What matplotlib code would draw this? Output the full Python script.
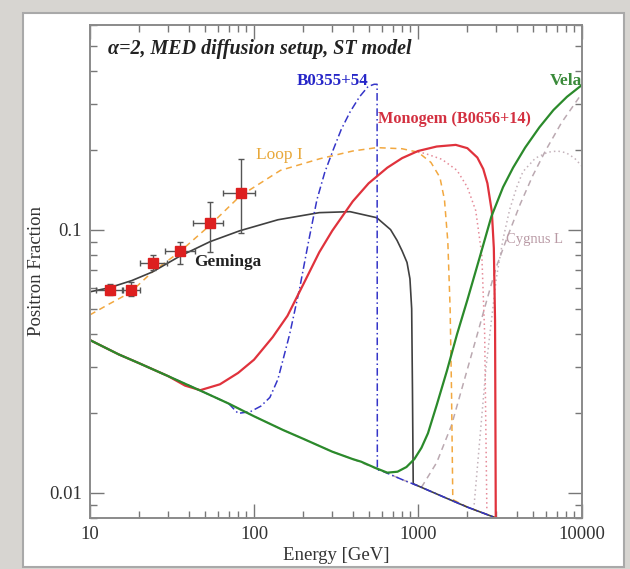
import matplotlib
matplotlib.use("Agg")
import matplotlib.pyplot as plt
from matplotlib.patches import Rectangle
from matplotlib.ticker import LogLocator, NullFormatter, FixedLocator, FixedFormatter

# ---- data -------------------------------------------------------------
# secondary-positron background
bg_E = [10, 15, 20, 30, 50, 70, 100, 150, 200, 300, 400, 600, 800, 1000, 1500, 2000, 3000, 3200]
bg_y = [0.038, 0.0335, 0.0310, 0.0277, 0.0240, 0.0218, 0.0195, 0.0173, 0.0160, 0.0143,
        0.0134, 0.0121, 0.0112, 0.0106, 0.0095, 0.0088, 0.0080, 0.0078]

# background + single pulsar (only the part that departs from the background)
vela_E = [450, 550, 650, 750, 850, 950, 1050, 1150, 1300, 1500, 1730, 2000, 2400, 2800,
          3300, 3800, 4500, 5500, 6700, 8100, 10000]
vela_y = [0.0131, 0.0124, 0.0119, 0.0120, 0.0125, 0.0134, 0.0148, 0.0168, 0.0215, 0.0290,
          0.040, 0.054, 0.080, 0.112, 0.145, 0.172, 0.205, 0.245, 0.285, 0.320, 0.355]

mono_E = [30, 38, 47, 62, 80, 100, 130, 160, 200, 250, 300, 400, 500, 650, 800, 1000, 1300,
          1700, 2000, 2300, 2500, 2650, 2820, 2900, 2950, 2980]
mono_y = [0.0277, 0.0255, 0.0245, 0.0258, 0.0285, 0.0320, 0.0390, 0.0470, 0.0620, 0.0820,
          0.0990, 0.128, 0.150, 0.172, 0.187, 0.199, 0.207, 0.210, 0.204, 0.188, 0.170,
          0.150, 0.117, 0.085, 0.045, 0.0080]

b0355_E = [80, 95, 110, 125, 140, 165, 190, 215, 242, 270, 303, 340, 385, 440, 496, 540, 563, 565]
b0355_y = [0.0200, 0.0203, 0.0213, 0.0230, 0.0270, 0.040, 0.060, 0.090, 0.130, 0.165, 0.200,
           0.240, 0.280, 0.320, 0.350, 0.357, 0.357, 0.0122]

loop_E = [10, 13, 17.5, 24, 35, 54, 82, 145, 252, 400, 560, 800, 1000, 1200, 1360, 1450,
          1520, 1570, 1600, 1630]
loop_y = [0.0474, 0.052, 0.0575, 0.069, 0.082, 0.104, 0.134, 0.168, 0.186, 0.199, 0.205,
          0.203, 0.197, 0.180, 0.158, 0.130, 0.090, 0.050, 0.025, 0.0094]

gem_E = [10, 13, 18, 24, 35, 54, 82, 140, 250, 385, 560, 680, 745, 800, 857, 893, 915, 925, 935]
gem_y = [0.058, 0.060, 0.064, 0.069, 0.079, 0.090, 0.099, 0.109, 0.116, 0.117, 0.111, 0.100,
         0.091, 0.083, 0.075, 0.065, 0.050, 0.025, 0.0108]

pink_E = [1000, 1100, 1400, 1730, 2000, 2250, 2450, 2550, 2630]
pink_y = [0.197, 0.195, 0.185, 0.168, 0.145, 0.118, 0.080, 0.040, 0.0085]

cyg_E = [1043, 1300, 1600, 1890, 2300, 2630, 3000, 3490, 4200, 5000, 6000, 7500, 10000]
cyg_y = [0.0104, 0.0130, 0.0180, 0.0260, 0.040, 0.054, 0.072, 0.093, 0.125, 0.160, 0.200,
         0.255, 0.330]

arc_E = [2200, 2600, 3000, 3300, 3620, 4000, 4360, 5200, 6200, 7080, 8000, 9000, 10000]
arc_y = [0.0090, 0.030, 0.065, 0.092, 0.119, 0.145, 0.166, 0.187, 0.197, 0.199, 0.196,
         0.187, 0.174]

# measured positron fraction points
pt_E = [13.2, 17.8, 24.2, 35.4, 54.0, 83.4]
pt_y = [0.059, 0.059, 0.0748, 0.083, 0.106, 0.138]
pt_Elo = [10.9, 15.9, 20.2, 28.6, 42.5, 64.6]
pt_Ehi = [15.7, 20.2, 29.5, 43.7, 64.6, 101.0]
pt_ylo = [0.0565, 0.056, 0.0705, 0.0740, 0.082, 0.0968]
pt_yhi = [0.0620, 0.063, 0.0800, 0.0894, 0.127, 0.185]


def with_background(E, y):
    """Join a pulsar curve with the background below and above its range."""
    lo = [(e, v) for e, v in zip(bg_E, bg_y) if e < E[0]]
    hi = [(e, v) for e, v in zip(bg_E, bg_y) if e > E[-1]]
    xs = [p[0] for p in lo] + list(E) + [p[0] for p in hi]
    ys = [p[1] for p in lo] + list(y) + [p[1] for p in hi]
    return xs, ys


# ---- figure -----------------------------------------------------------
fig = plt.figure(figsize=(6.3, 5.69), dpi=100)
fig.patch.set_facecolor("#d7d5d1")
fig.patches.append(Rectangle((23 / 630, 2 / 569), 601 / 630, 554 / 569,
                             transform=fig.transFigure, facecolor="white",
                             edgecolor="#a9a9a9", linewidth=1.5, zorder=-10))

ax = fig.add_axes([90 / 630, 1 - 518 / 569, 492 / 630, 493 / 569])
ax.set_zorder(5)
ax.set_xscale("log")
ax.set_yscale("log")
ax.set_xlim(10, 10000)
ax.set_ylim(0.008, 0.6)

serif = ["Liberation Serif", "DejaVu Serif"]

ax.plot(arc_E, arc_y, color="#c4b3bb", linestyle=(0, (1, 2)), linewidth=1.1)
ax.plot(*with_background(cyg_E, cyg_y), color="#bba9b1", linestyle=(0, (4, 3)), linewidth=1.1)
ax.plot(pink_E, pink_y, color="#e58a98", linestyle=(0, (1, 2)), linewidth=1.1)
ax.plot(*with_background(loop_E, loop_y), color="#f2a840", linestyle=(0, (4, 3)), linewidth=1.1)
ax.plot(*with_background(gem_E, gem_y), color="#404040", linewidth=1.2)
ax.plot(*with_background(b0355_E, b0355_y), color="#3535c8", linestyle=(0, (5, 2, 1, 2)),
        linewidth=1.1)
ax.plot(*with_background(mono_E, mono_y), color="#e0323c", linewidth=1.6)
ax.plot(*with_background(vela_E, vela_y), color="#2b8a2b", linewidth=1.6)

xerr = [[c - l for c, l in zip(pt_E, pt_Elo)], [h - c for c, h in zip(pt_E, pt_Ehi)]]
yerr = [[c - l for c, l in zip(pt_y, pt_ylo)], [h - c for c, h in zip(pt_y, pt_yhi)]]
ax.errorbar(pt_E, pt_y, xerr=xerr, yerr=yerr, fmt="s", color="#dd1f1f", markersize=7,
            ecolor="#555555", elinewidth=1.0, capsize=2.5, capthick=1.0, zorder=5)

# labels
ax.text(12.9, 0.485, "α=2, MED diffusion setup, ST model", family=serif, fontsize=14.4,
        fontweight="bold", fontstyle="italic", color="#222222", va="center")
ax.text(300, 0.366, "B0355+54", family=serif, fontsize=12.2, fontweight="bold",
        color="#2626c8", ha="center", va="center")
ax.text(10000, 0.366, "Vela", family=serif, fontsize=12.5, fontweight="bold",
        color="#3a8a3a", ha="right", va="center")
ax.text(570, 0.263, "Monogem (B0656+14)", family=serif, fontsize=11.7, fontweight="bold",
        color="#d33040", va="center")
ax.text(142, 0.193, "Loop I", family=serif, fontsize=12.5, color="#e8a83a",
        ha="center", va="center")
ax.text(69, 0.075, "Geminga", family=serif, fontsize=12.4, fontweight="bold",
        color="#222222", ha="center", va="center")
ax.text(3460, 0.092, "Cygnus L", family=serif, fontsize=10.5, color="#b99aa5", va="center")

ax.set_xlabel("Energy [GeV]", family=serif, fontsize=13.5, color="#333333", labelpad=3)
ax.set_ylabel("Positron Fraction", family=serif, fontsize=13.5, color="#333333", labelpad=3)

ax.xaxis.set_major_locator(FixedLocator([10, 100, 1000, 10000]))
ax.xaxis.set_major_formatter(FixedFormatter(["10", "100", "1000", "10000"]))
ax.xaxis.set_minor_locator(LogLocator(base=10, subs=range(2, 10), numticks=20))
ax.xaxis.set_minor_formatter(NullFormatter())
ax.yaxis.set_major_locator(FixedLocator([0.01, 0.1]))
ax.yaxis.set_major_formatter(FixedFormatter(["0.01", "0.1"]))
ax.yaxis.set_minor_locator(LogLocator(base=10, subs=range(2, 10), numticks=20))
ax.yaxis.set_minor_formatter(NullFormatter())

ax.tick_params(which="both", direction="in", top=True, right=True, color="#777777",
               width=1.0)
ax.tick_params(which="major", length=10, labelsize=13.5, labelcolor="#333333", pad=6)
ax.tick_params(which="minor", length=5)
for lab in ax.get_xticklabels() + ax.get_yticklabels():
    lab.set_family(serif)
for sp in ax.spines.values():
    sp.set_color("#8a8a8a")
    sp.set_linewidth(1.4)

fig.savefig("out.png", dpi=100, facecolor=fig.get_facecolor())
